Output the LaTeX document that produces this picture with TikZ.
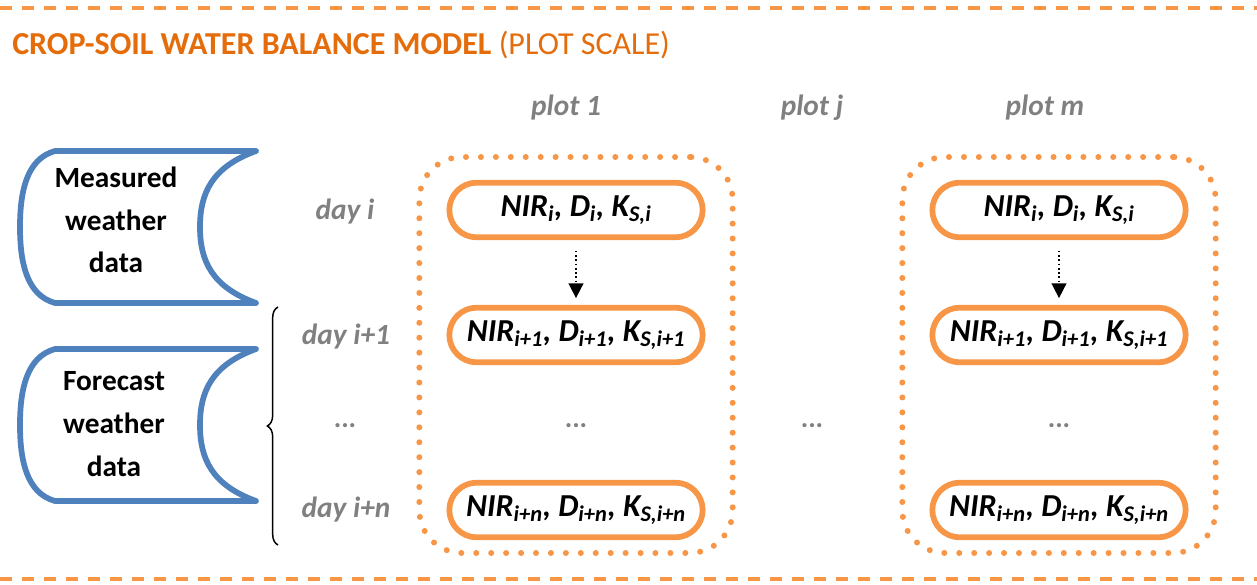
\documentclass[tikz,border=0pt]{standalone}
\usepackage{fontspec}
\setmainfont{Carlito}
\usetikzlibrary{arrows.meta,decorations.pathreplacing}
\definecolor{orangeline}{HTML}{F79646}
\definecolor{orangetitle}{HTML}{E46C0A}
\definecolor{blueline}{HTML}{4F81BD}
\definecolor{graytext}{HTML}{808080}
\tikzset{
  pill/.style={draw=orangeline, line width=4.3pt, rounded corners=20.5pt, minimum width=190pt, minimum height=41pt, inner sep=0pt, font=\fontsize{24}{28}\selectfont\bfseries\itshape},
  plotbox/.style={draw=orangeline, line width=4.5pt, line cap=round, dash pattern=on 0pt off 11.2pt, rounded corners=32pt, minimum width=235pt, minimum height=297pt},
  grayhead/.style={text=graytext, font=\fontsize{22}{26}\selectfont\bfseries\itshape},
  graydots/.style={text=graytext, font=\fontsize{21}{24}\selectfont\bfseries},
  datatext/.style={align=center, font=\fontsize{22}{32}\selectfont\bfseries},
  borderline/.style={orangeline, line width=2.3pt, dash pattern=on 9pt off 7.5pt},
  pics/datastore/.style={code={
    \draw[blueline, line width=4.3pt, line join=round]
      (35,0) -- (236,0) .. controls (192,16) and (180,42) .. (180,76)
      .. controls (180,110) and (192,136) .. (236,152) -- (35,152)
      .. controls (6,144) and (0,110) .. (0,76)
      .. controls (0,42) and (6,8) .. (35,0) -- cycle;
  }}
}
\begin{document}
\begin{tikzpicture}[x=0.75pt,y=-0.75pt]
\useasboundingbox (0,0) rectangle (1257,585);
% frame lines and title
\coordinate (topl) at (0,8);
\coordinate (topr) at (1257,8);
\coordinate (botl) at (0,579);
\coordinate (botr) at (1257,579);
\draw[borderline] (topl) -- (topr);
\draw[borderline] (botl) -- (botr);
\node[anchor=base west, inner sep=0pt, text=orangetitle, font=\fontsize{24}{28}\selectfont] (title) at (12,55)
  {\textbf{CROP-SOIL WATER BALANCE MODEL} (PLOT SCALE)};

% weather data
\pic at (20,151) {datastore};
\pic at (20,349) {datastore};
\node[datatext] (measured) at (116,220) {Measured\\weather\\data};
\node[datatext] (forecast) at (114,424) {Forecast\\weather\\data};
\coordinate (bracetop) at (278,307);
\coordinate (bracebot) at (278,545);
\draw[line width=1.1pt, decorate, decoration={brace, amplitude=8pt}] (bracebot) -- (bracetop);

% days
\node[grayhead] (dayi) at (345,212) {day i};
\node[grayhead] (dayinext) at (346,337) {day i+1};
\node[graydots] (daydots) at (345,426) {...};
\node[grayhead] (dayin) at (346,510) {day i+n};

% plots
\node[grayhead] (headone) at (566,108) {plot 1};
\node[grayhead] (headj) at (812,108) {plot j};
\node[grayhead] (headm) at (1045,108) {plot m};
\node[graydots] (plotdots) at (812,426) {...};
\foreach \col/\x in {one/576, m/1059}{
  \node[plotbox] (box\col) at (\x,355) {};
  \node[pill] (\col a) at (\x,210) {NIR\textsubscript{i}, D\textsubscript{i}, K\textsubscript{S,i}};
  \node[pill] (\col b) at (\x,335) {NIR\textsubscript{i+1}, D\textsubscript{i+1}, K\textsubscript{S,i+1}};
  \node[graydots] (\col dots) at (\x,426) {...};
  \node[pill] (\col c) at (\x,510) {NIR\textsubscript{i+n}, D\textsubscript{i+n}, K\textsubscript{S,i+n}};
  \draw[dotted, line width=1.2pt, -{Triangle[width=11pt,length=11pt]}, shorten <=8pt, shorten >=5pt] (\col a) -- (\col b);
}
\end{tikzpicture}
\end{document}
